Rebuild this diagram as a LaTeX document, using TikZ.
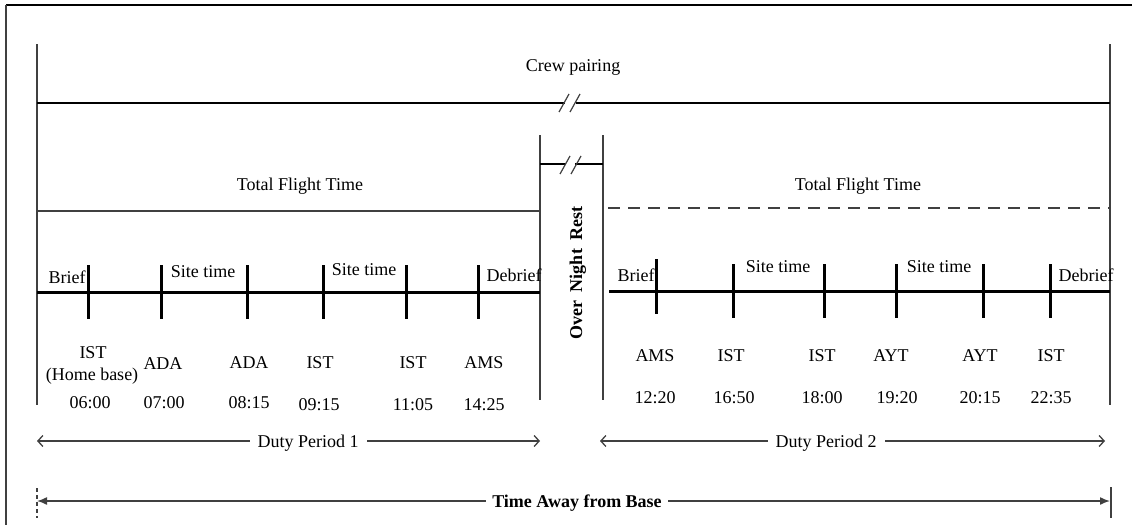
\documentclass[tikz,border=0pt]{standalone}
\usepackage{fontspec}
\setmainfont{Liberation Serif}
\usetikzlibrary{arrows.meta}
\definecolor{lg}{HTML}{404040}
\begin{document}
\begin{tikzpicture}[x=1pt,y=-1pt,
  lbl/.style={inner sep=0pt, anchor=center, text height=12pt, text depth=0pt, font=\fontsize{18}{20}\selectfont},
  blbl/.style={lbl, font=\fontsize{18}{20}\selectfont\bfseries},
  midlbl/.style={lbl, fill=white, inner xsep=8pt},
  topframe/.style={line width=2.5pt, black},
  sideframe/.style={line width=2pt, lg},
  vline/.style={line width=2pt, lg},
  pairline/.style={line width=2.5pt, black},
  flightline/.style={line width=2.5pt, lg},
  flightdash/.style={line width=2.5pt, lg, dash pattern=on 12pt off 8pt},
  tline/.style={line width=3pt, black},
  tickmark/.style={line width=3pt, black},
  slash/.style={line width=1.2pt, lg},
  darr/.style={line width=1.3pt, lg, {Straight Barb[length=5pt,width=11pt,line width=1.3pt]}-{Straight Barb[length=5pt,width=11pt,line width=1.3pt]}},
  tarr/.style={line width=1.5pt, lg, {Latex[length=10pt,width=8pt]}-{Latex[length=10pt,width=8pt]}},
  endtick/.style={line width=1.5pt, lg},
  endtickdash/.style={line width=1.2pt, lg, dash pattern=on 4pt off 3pt}
]
\useasboundingbox (0,0) rectangle (1132,525);

% frame
\coordinate (fTL) at (6,5);
\coordinate (fTR) at (1132,5);
\coordinate (fBL) at (6,525);
\draw[topframe] (fTL) -- (fTR);
\draw[sideframe] (fTL) -- (fBL);

% main verticals
\coordinate (mL1) at (37,44);  \coordinate (mL2) at (37,405);
\coordinate (mR1) at (1110,44); \coordinate (mR2) at (1110,405);
\draw[vline] (mL1) -- (mL2);
\draw[vline] (mR1) -- (mR2);

% overnight rest verticals
\coordinate (rL1) at (540,135); \coordinate (rL2) at (540,400);
\coordinate (rR1) at (603,135); \coordinate (rR2) at (603,400);
\draw[vline] (rL1) -- (rL2);
\draw[vline] (rR1) -- (rR2);

% crew pairing
\node[lbl] (crew) at (573,65) {Crew pairing};
\coordinate (cpL) at (37,103);
\coordinate (cpB1) at (565,103);
\coordinate (cpB2) at (576,103);
\coordinate (cpR) at (1110,103);
\draw[pairline] (cpL) -- (cpB1);
\draw[pairline] (cpB2) -- (cpR);
\coordinate (cs1a) at (559,112); \coordinate (cs1b) at (569,94);
\coordinate (cs2a) at (570,112); \coordinate (cs2b) at (580,94);
\draw[slash] (cs1a) -- (cs1b);
\draw[slash] (cs2a) -- (cs2b);

% overnight bracket
\coordinate (oL) at (540,164);
\coordinate (oB1) at (566,164);
\coordinate (oB2) at (575,164);
\coordinate (oR) at (603,164);
\draw[pairline] (oL) -- (oB1);
\draw[pairline] (oB2) -- (oR);
\coordinate (os1a) at (560,174); \coordinate (os1b) at (570,156);
\coordinate (os2a) at (571,174); \coordinate (os2b) at (581,156);
\draw[slash] (os1a) -- (os1b);
\draw[slash] (os2a) -- (os2b);

\node[blbl, rotate=90] (rest) at (576,273) {Over\hspace{0.5em}Night\hspace{0.5em}Rest};

% total flight time
\node[lbl] (tft1) at (300,184) {Total Flight Time};
\node[lbl] (tft2) at (858,184) {Total Flight Time};
\coordinate (ft1L) at (37,211); \coordinate (ft1R) at (540,211);
\coordinate (ft2L) at (608,208); \coordinate (ft2R) at (1110,208);
\draw[flightline] (ft1L) -- (ft1R);
\draw[flightdash] (ft2L) -- (ft2R);

% left timeline
\coordinate (t1L) at (37,292); \coordinate (t1R) at (540,292);
\draw[tline] (t1L) -- (t1R);
\foreach \i/\x in {1/88,2/161,3/247,4/323,5/406,6/478}{
  \coordinate (lt\i a) at (\x,265);
  \coordinate (lt\i b) at (\x,319);
  \draw[tickmark] (lt\i a) -- (lt\i b);
}
\node[lbl] (br1) at (67,277) {Brief};
\node[lbl] (st1) at (203,271) {Site time};
\node[lbl] (st2) at (364,269) {Site time};
\node[lbl] (db1) at (514,275) {Debrief};

\node[lbl] (s1) at (93,352) {IST};
\node[lbl] (s1b) at (92,374) {(Home base)};
\node[lbl] (s2) at (163,363) {ADA};
\node[lbl] (s3) at (249,362) {ADA};
\node[lbl] (s4) at (320,362) {IST};
\node[lbl] (s5) at (413,362) {IST};
\node[lbl] (s6) at (484,362) {AMS};
\node[lbl] (h1) at (90,402) {06:00};
\node[lbl] (h2) at (164,402) {07:00};
\node[lbl] (h3) at (249,402) {08:15};
\node[lbl] (h4) at (319,404) {09:15};
\node[lbl] (h5) at (413,404) {11:05};
\node[lbl] (h6) at (484,404) {14:25};

% right timeline
\coordinate (t2L) at (609,291); \coordinate (t2R) at (1110,291);
\draw[tline] (t2L) -- (t2R);
\coordinate (rt1a) at (656,259); \coordinate (rt1b) at (656,314);
\draw[tickmark] (rt1a) -- (rt1b);
\foreach \i/\x in {2/733,3/824,4/896,5/983,6/1050}{
  \coordinate (rt\i a) at (\x,264);
  \coordinate (rt\i b) at (\x,318);
  \draw[tickmark] (rt\i a) -- (rt\i b);
}
\node[lbl] (br2) at (636,275) {Brief};
\node[lbl] (st3) at (778,266) {Site time};
\node[lbl] (st4) at (939,266) {Site time};
\node[lbl] (db2) at (1086,275) {Debrief};

\node[lbl] (u1) at (655,355) {AMS};
\node[lbl] (u2) at (731,355) {IST};
\node[lbl] (u3) at (822,355) {IST};
\node[lbl] (u4) at (891,355) {AYT};
\node[lbl] (u5) at (980,355) {AYT};
\node[lbl] (u6) at (1051,355) {IST};
\node[lbl] (k1) at (655,397) {12:20};
\node[lbl] (k2) at (734,397) {16:50};
\node[lbl] (k3) at (822,397) {18:00};
\node[lbl] (k4) at (897,397) {19:20};
\node[lbl] (k5) at (980,397) {20:15};
\node[lbl] (k6) at (1051,397) {22:35};

% duty periods
\coordinate (d1L) at (37,441); \coordinate (d1R) at (540,441);
\coordinate (d2L) at (600,441); \coordinate (d2R) at (1105,441);
\draw[darr] (d1L) -- (d1R);
\draw[darr] (d2L) -- (d2R);
\node[midlbl] (dp1) at (308,441) {Duty Period 1};
\node[midlbl] (dp2) at (826,441) {Duty Period 2};

% time away from base
\coordinate (aL) at (37,501); \coordinate (aR) at (1110,501);
\coordinate (aLt) at (37,488); \coordinate (aLb) at (37,518);
\coordinate (aRt) at (1111,487); \coordinate (aRb) at (1111,518);
\draw[endtickdash] (aLt) -- (aLb);
\draw[endtick] (aRt) -- (aRb);
\draw[tarr] (aL) -- (aR);
\node[midlbl, font=\fontsize{18}{20}\selectfont\bfseries, inner xsep=6pt] (away) at (577,501) {Time Away from Base};
\end{tikzpicture}
\end{document}
